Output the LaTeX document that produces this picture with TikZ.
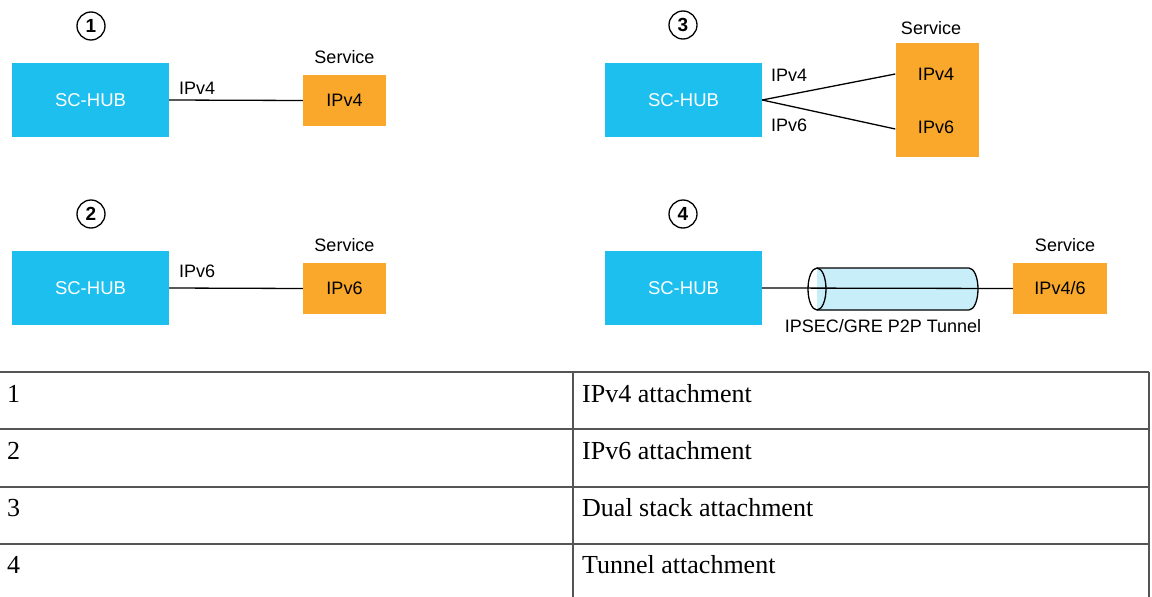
\documentclass[tikz,border=0pt]{standalone}
\usepackage{fontspec}
\usetikzlibrary{calc}
\setmainfont{Liberation Sans}
\newfontfamily\tabfont{Liberation Serif}
\definecolor{hubblue}{HTML}{1DBFEF}
\definecolor{svcorange}{HTML}{F9A82B}
\definecolor{tubecyan}{HTML}{C8EEF9}
\definecolor{gridgray}{HTML}{555555}
\begin{document}
\begin{tikzpicture}[x=1pt,y=-1pt,
  hub/.style={fill=hubblue,draw=none,minimum width=157pt,minimum height=74pt,inner sep=0pt,text=white,font=\fontsize{18.5}{18.5}\selectfont},
  svc/.style={fill=svcorange,draw=none,minimum width=83pt,minimum height=51pt,inner sep=0pt,font=\fontsize{18}{18}\selectfont},
  lbl/.style={inner sep=0pt,font=\fontsize{18}{18}\selectfont},
  num/.style={circle,draw,line width=1.3pt,minimum size=28pt,inner sep=0pt,font=\bfseries\fontsize{19}{19}\selectfont},
  link/.style={line width=1.3pt,black},
  tab/.style={inner sep=0pt,anchor=base west,font=\tabfont\fontsize{26}{26}\selectfont},
  rule/.style={line width=1.2pt,gridgray}]
\useasboundingbox (0,0) rectangle (1152,597);
% panel 1
\node[num] (n1) at (91,26) {1};
\node[hub] (h1) at (90.5,100) {SC-HUB};
\node[svc] (s1) at (344.5,100.5) {IPv4};
\node[lbl] (t1) at (344.5,57) {Service};
\draw[link] (h1.east) -- (s1.west);
\node[lbl,anchor=base west] (l1) at (179,94) {IPv4};
% panel 2
\node[num] (n2) at (91,214) {2};
\node[hub] (h2) at (90.5,288) {SC-HUB};
\node[svc] (s2) at (344.5,288.5) {IPv6};
\node[lbl] (t2) at (344.5,245) {Service};
\draw[link] (h2.east) -- (s2.west);
\node[lbl,anchor=base west] (l2) at (179,277) {IPv6};
% panel 3
\node[num] (n3) at (683,25) {3};
\node[hub] (h3) at (683.5,100) {SC-HUB};
\node[svc,minimum height=114pt] (s3) at (937,100) {};
\node[lbl] (t3) at (931,28) {Service};
\node[inner sep=0pt,font=\fontsize{18}{18}\selectfont] (s3a) at (936,74) {IPv4};
\node[inner sep=0pt,font=\fontsize{18}{18}\selectfont] (s3b) at (936,127) {IPv6};
\coordinate (j3) at (h3.east);
\coordinate (e3a) at ($(s3.west)+(0,-26)$);
\coordinate (e3b) at ($(s3.west)+(0,29)$);
\draw[link] (j3) -- (e3a);
\draw[link] (j3) -- (e3b);
\node[lbl,anchor=base west] (l3a) at (771,81) {IPv4};
\node[lbl,anchor=base west] (l3b) at (771,131) {IPv6};
% panel 4
\node[num] (n4) at (683,214) {4};
\node[hub] (h4) at (683.5,288) {SC-HUB};
\node[svc,minimum width=94pt] (s4) at (1060,288.5) {IPv4/6};
\node[lbl] (t4) at (1065,245) {Service};
\coordinate (tl) at (817,289);
\coordinate (tlt) at (817,268);
\coordinate (tlb) at (817,310);
\coordinate (trt) at (969,268);
\fill[tubecyan] (tlt) -- (trt) arc[start angle=90,end angle=-90,x radius=9pt,y radius=21pt] -- (tlb) -- cycle;
\draw[link] (h4.east) -- (s4.west);
\draw[line width=1.3pt] (tlt) -- (trt) arc[start angle=90,end angle=-90,x radius=9pt,y radius=21pt] -- (tlb);
\draw[line width=1.3pt] (tl) ellipse[x radius=9pt,y radius=21pt];
\node[lbl] (tt) at (883,326) {IPSEC/GRE P2P Tunnel};
% table
\draw[rule] (0,372) -- (1149,372);
\draw[rule] (0,429) -- (1149,429);
\draw[rule] (0,487) -- (1149,487);
\draw[rule] (0,544) -- (1149,544);
\draw[rule] (573,372) -- (573,597);
\draw[rule] (1149,372) -- (1149,597);
\node[tab] (r1a) at (7,402) {1};
\node[tab] (r1b) at (582,402) {IPv4 attachment};
\node[tab] (r2a) at (7,459) {2};
\node[tab] (r2b) at (582,459) {IPv6 attachment};
\node[tab] (r3a) at (7,516) {3};
\node[tab] (r3b) at (582,516) {Dual stack attachment};
\node[tab] (r4a) at (7,573) {4};
\node[tab] (r4b) at (582,573) {Tunnel attachment};
\end{tikzpicture}
\end{document}
